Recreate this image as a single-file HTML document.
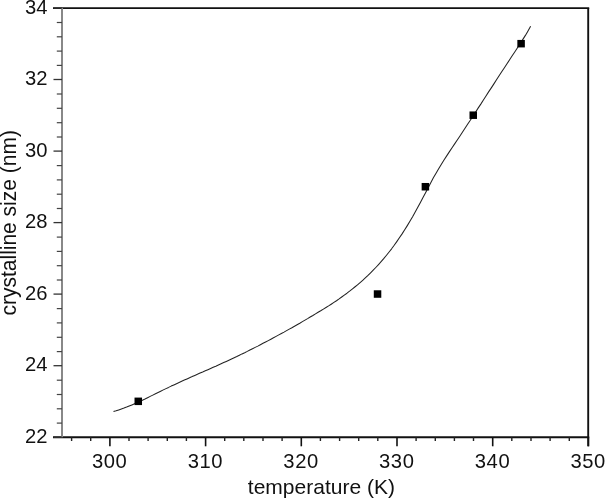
<!DOCTYPE html>
<html><head><meta charset="utf-8"><title>chart</title>
<style>
html,body{margin:0;padding:0;background:#fff;}
svg{display:block;}
text{font-family:"Liberation Sans",Arial,sans-serif;fill:#111;}
</style></head><body>
<svg width="605" height="498" viewBox="0 0 605 498">
<rect width="605" height="498" fill="#fff"/>

<line x1="53" y1="8.1" x2="589.1999999999999" y2="8.1" stroke="#111" stroke-width="1.9"/>
<line x1="53" y1="437.3" x2="589.1999999999999" y2="437.3" stroke="#111" stroke-width="1.9"/>
<line x1="62" y1="8.0" x2="62" y2="437.2" stroke="#888" stroke-width="2"/>
<line x1="588.1999999999999" y1="8.0" x2="588.1999999999999" y2="446.3" stroke="#111" stroke-width="1.9"/>
<line x1="53.5" y1="437.2" x2="62.0" y2="437.2" stroke="#333" stroke-width="1.3"/>
<line x1="56.8" y1="423.1" x2="62.0" y2="423.1" stroke="#444" stroke-width="1.2"/>
<line x1="56.8" y1="408.8" x2="62.0" y2="408.8" stroke="#444" stroke-width="1.2"/>
<line x1="56.8" y1="394.5" x2="62.0" y2="394.5" stroke="#444" stroke-width="1.2"/>
<line x1="56.8" y1="380.2" x2="62.0" y2="380.2" stroke="#444" stroke-width="1.2"/>
<line x1="53.5" y1="365.7" x2="62.0" y2="365.7" stroke="#333" stroke-width="1.3"/>
<line x1="56.8" y1="351.6" x2="62.0" y2="351.6" stroke="#444" stroke-width="1.2"/>
<line x1="56.8" y1="337.3" x2="62.0" y2="337.3" stroke="#444" stroke-width="1.2"/>
<line x1="56.8" y1="322.9" x2="62.0" y2="322.9" stroke="#444" stroke-width="1.2"/>
<line x1="56.8" y1="308.6" x2="62.0" y2="308.6" stroke="#444" stroke-width="1.2"/>
<line x1="53.5" y1="294.1" x2="62.0" y2="294.1" stroke="#333" stroke-width="1.3"/>
<line x1="56.8" y1="280.0" x2="62.0" y2="280.0" stroke="#444" stroke-width="1.2"/>
<line x1="56.8" y1="265.7" x2="62.0" y2="265.7" stroke="#444" stroke-width="1.2"/>
<line x1="56.8" y1="251.4" x2="62.0" y2="251.4" stroke="#444" stroke-width="1.2"/>
<line x1="56.8" y1="237.1" x2="62.0" y2="237.1" stroke="#444" stroke-width="1.2"/>
<line x1="53.5" y1="222.6" x2="62.0" y2="222.6" stroke="#333" stroke-width="1.3"/>
<line x1="56.8" y1="208.5" x2="62.0" y2="208.5" stroke="#444" stroke-width="1.2"/>
<line x1="56.8" y1="194.2" x2="62.0" y2="194.2" stroke="#444" stroke-width="1.2"/>
<line x1="56.8" y1="179.9" x2="62.0" y2="179.9" stroke="#444" stroke-width="1.2"/>
<line x1="56.8" y1="165.6" x2="62.0" y2="165.6" stroke="#444" stroke-width="1.2"/>
<line x1="53.5" y1="151.1" x2="62.0" y2="151.1" stroke="#333" stroke-width="1.3"/>
<line x1="56.8" y1="137.0" x2="62.0" y2="137.0" stroke="#444" stroke-width="1.2"/>
<line x1="56.8" y1="122.7" x2="62.0" y2="122.7" stroke="#444" stroke-width="1.2"/>
<line x1="56.8" y1="108.3" x2="62.0" y2="108.3" stroke="#444" stroke-width="1.2"/>
<line x1="56.8" y1="94.0" x2="62.0" y2="94.0" stroke="#444" stroke-width="1.2"/>
<line x1="53.5" y1="79.5" x2="62.0" y2="79.5" stroke="#333" stroke-width="1.3"/>
<line x1="56.8" y1="65.4" x2="62.0" y2="65.4" stroke="#444" stroke-width="1.2"/>
<line x1="56.8" y1="51.1" x2="62.0" y2="51.1" stroke="#444" stroke-width="1.2"/>
<line x1="56.8" y1="36.8" x2="62.0" y2="36.8" stroke="#444" stroke-width="1.2"/>
<line x1="56.8" y1="22.5" x2="62.0" y2="22.5" stroke="#444" stroke-width="1.2"/>
<line x1="53.5" y1="8.0" x2="62.0" y2="8.0" stroke="#333" stroke-width="1.3"/>
<line x1="71.6" y1="437.2" x2="71.6" y2="441" stroke="#222" stroke-width="1.4"/>
<line x1="90.7" y1="437.2" x2="90.7" y2="441" stroke="#222" stroke-width="1.4"/>
<line x1="109.9" y1="437.2" x2="109.9" y2="446.3" stroke="#111" stroke-width="1.6"/>
<line x1="129.0" y1="437.2" x2="129.0" y2="441" stroke="#222" stroke-width="1.4"/>
<line x1="148.1" y1="437.2" x2="148.1" y2="441" stroke="#222" stroke-width="1.4"/>
<line x1="167.3" y1="437.2" x2="167.3" y2="441" stroke="#222" stroke-width="1.4"/>
<line x1="186.4" y1="437.2" x2="186.4" y2="441" stroke="#222" stroke-width="1.4"/>
<line x1="205.6" y1="437.2" x2="205.6" y2="446.3" stroke="#111" stroke-width="1.6"/>
<line x1="224.7" y1="437.2" x2="224.7" y2="441" stroke="#222" stroke-width="1.4"/>
<line x1="243.8" y1="437.2" x2="243.8" y2="441" stroke="#222" stroke-width="1.4"/>
<line x1="263.0" y1="437.2" x2="263.0" y2="441" stroke="#222" stroke-width="1.4"/>
<line x1="282.1" y1="437.2" x2="282.1" y2="441" stroke="#222" stroke-width="1.4"/>
<line x1="301.3" y1="437.2" x2="301.3" y2="446.3" stroke="#111" stroke-width="1.6"/>
<line x1="320.4" y1="437.2" x2="320.4" y2="441" stroke="#222" stroke-width="1.4"/>
<line x1="339.6" y1="437.2" x2="339.6" y2="441" stroke="#222" stroke-width="1.4"/>
<line x1="358.7" y1="437.2" x2="358.7" y2="441" stroke="#222" stroke-width="1.4"/>
<line x1="377.8" y1="437.2" x2="377.8" y2="441" stroke="#222" stroke-width="1.4"/>
<line x1="397.0" y1="437.2" x2="397.0" y2="446.3" stroke="#111" stroke-width="1.6"/>
<line x1="416.1" y1="437.2" x2="416.1" y2="441" stroke="#222" stroke-width="1.4"/>
<line x1="435.3" y1="437.2" x2="435.3" y2="441" stroke="#222" stroke-width="1.4"/>
<line x1="454.4" y1="437.2" x2="454.4" y2="441" stroke="#222" stroke-width="1.4"/>
<line x1="473.5" y1="437.2" x2="473.5" y2="441" stroke="#222" stroke-width="1.4"/>
<line x1="492.7" y1="437.2" x2="492.7" y2="446.3" stroke="#111" stroke-width="1.6"/>
<line x1="511.8" y1="437.2" x2="511.8" y2="441" stroke="#222" stroke-width="1.4"/>
<line x1="531.0" y1="437.2" x2="531.0" y2="441" stroke="#222" stroke-width="1.4"/>
<line x1="550.1" y1="437.2" x2="550.1" y2="441" stroke="#222" stroke-width="1.4"/>
<line x1="569.3" y1="437.2" x2="569.3" y2="441" stroke="#222" stroke-width="1.4"/>
<line x1="588.4" y1="437.2" x2="588.4" y2="446.3" stroke="#111" stroke-width="1.6"/>
<text x="47.4" y="442.7" font-size="20.2" text-anchor="end">22</text>
<text x="47.4" y="371.2" font-size="20.2" text-anchor="end">24</text>
<text x="47.4" y="299.6" font-size="20.2" text-anchor="end">26</text>
<text x="47.4" y="228.1" font-size="20.2" text-anchor="end">28</text>
<text x="47.4" y="156.6" font-size="20.2" text-anchor="end">30</text>
<text x="47.4" y="85.0" font-size="20.2" text-anchor="end">32</text>
<text x="47.4" y="13.5" font-size="20.2" text-anchor="end">34</text>
<text x="109.7" y="467.7" font-size="20.2" letter-spacing="0.6" text-anchor="middle">300</text>
<text x="205.4" y="467.7" font-size="20.2" letter-spacing="0.6" text-anchor="middle">310</text>
<text x="301.1" y="467.7" font-size="20.2" letter-spacing="0.6" text-anchor="middle">320</text>
<text x="396.8" y="467.7" font-size="20.2" letter-spacing="0.6" text-anchor="middle">330</text>
<text x="492.5" y="467.7" font-size="20.2" letter-spacing="0.6" text-anchor="middle">340</text>
<text x="588.2" y="467.7" font-size="20.2" letter-spacing="0.6" text-anchor="middle">350</text>
<text x="321.4" y="493.6" font-size="21" text-anchor="middle">temperature (K)</text>
<text transform="translate(16.0,222.8) rotate(-90) scale(1,1.05)" font-size="21" text-anchor="middle">crystalline size (nm)</text>
<path d="M113.5,411.5 L116.1,410.8 L118.7,409.9 L121.4,409.0 L124.0,408.1 L126.6,407.1 L129.2,406.0 L131.9,404.9 L134.5,403.8 L137.1,402.6 L139.7,401.4 L142.4,400.2 L145.0,399.0 L147.6,397.7 L150.2,396.4 L152.8,395.1 L155.5,393.8 L158.1,392.5 L160.7,391.2 L163.3,389.9 L166.0,388.6 L168.6,387.4 L171.2,386.1 L173.8,384.9 L176.5,383.7 L179.1,382.5 L181.7,381.3 L184.3,380.1 L187.0,378.9 L189.6,377.7 L192.2,376.6 L194.8,375.4 L197.4,374.3 L200.1,373.1 L202.7,372.0 L205.3,370.8 L207.9,369.7 L210.6,368.5 L213.2,367.3 L215.8,366.2 L218.4,365.0 L221.1,363.8 L223.7,362.6 L226.3,361.4 L228.9,360.2 L231.5,359.0 L234.2,357.7 L236.8,356.5 L239.4,355.2 L242.0,353.9 L244.7,352.7 L247.3,351.4 L249.9,350.0 L252.5,348.7 L255.2,347.4 L257.8,346.1 L260.4,344.7 L263.0,343.3 L265.6,342.0 L268.3,340.6 L270.9,339.2 L273.5,337.8 L276.1,336.4 L278.8,334.9 L281.4,333.5 L284.0,332.1 L286.6,330.6 L289.3,329.1 L291.9,327.7 L294.5,326.2 L297.1,324.7 L299.8,323.2 L302.4,321.6 L305.0,320.1 L307.6,318.6 L310.2,317.0 L312.9,315.5 L315.5,313.9 L318.1,312.3 L320.7,310.8 L323.4,309.1 L326.0,307.5 L328.6,305.9 L331.2,304.2 L333.9,302.4 L336.5,300.7 L339.1,298.9 L341.7,297.0 L344.3,295.1 L347.0,293.2 L349.6,291.2 L352.2,289.1 L354.8,287.0 L357.5,284.8 L360.1,282.6 L362.7,280.3 L365.3,277.9 L368.0,275.4 L370.6,272.8 L373.2,270.2 L375.8,267.5 L378.5,264.6 L381.1,261.7 L383.7,258.7 L386.3,255.5 L388.9,252.2 L391.6,248.8 L394.2,245.3 L396.8,241.6 L399.4,237.8 L402.1,233.9 L404.7,229.8 L407.3,225.6 L409.9,221.2 L412.6,216.7 L415.2,212.1 L417.8,207.3 L420.4,202.4 L423.0,197.4 L425.7,192.4 L428.3,187.4 L430.9,182.4 L433.5,177.6 L436.2,173.0 L438.8,168.5 L441.4,164.2 L444.0,160.0 L446.7,155.9 L449.3,151.9 L451.9,148.0 L454.5,144.1 L457.1,140.2 L459.8,136.2 L462.4,132.3 L465.0,128.3 L467.6,124.3 L470.3,120.3 L472.9,116.2 L475.5,112.2 L478.1,108.1 L480.8,104.1 L483.4,100.0 L486.0,96.0 L488.6,91.9 L491.3,87.9 L493.9,83.9 L496.5,79.8 L499.1,75.8 L501.7,71.8 L504.4,67.8 L507.0,63.8 L509.6,59.8 L512.2,55.8 L514.9,51.8 L517.5,47.8 L520.1,43.8 L522.7,39.6 L525.4,35.4 L528.0,30.9 L530.6,26.2" fill="none" stroke="#222" stroke-width="1.05" stroke-linejoin="round" stroke-linecap="butt"/>
<rect x="134.52" y="397.58" width="7.5" height="7.5" fill="#000"/>
<rect x="373.79" y="290.28" width="7.5" height="7.5" fill="#000"/>
<rect x="421.64" y="182.98" width="7.5" height="7.5" fill="#000"/>
<rect x="469.50" y="111.45" width="7.5" height="7.5" fill="#000"/>
<rect x="517.35" y="39.92" width="7.5" height="7.5" fill="#000"/>
</svg></body></html>
